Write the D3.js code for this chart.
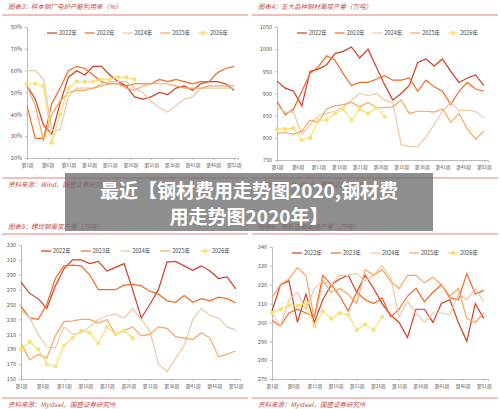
<!DOCTYPE html>
<html><head><meta charset="utf-8">
<script src="https://cdn.jsdelivr.net/npm/d3@7"></script>
<style>body{margin:0;background:#fff}svg{display:block}</style>
</head><body><svg width="500" height="409"></svg>
<script>
"use strict";
// Weekly values, sampled every second week (weeks 1,3,...,51); 2026 only up to week 27.
const WEEKS = d3.range(1, 52, 2);
const WEEKS_2026 = d3.range(1, 28, 2);
const YEARS = ["2022年", "2023年", "2024年", "2025年", "2026年"];
const TICK_WEEKS = [1, 6, 11, 16, 21, 26, 31, 36, 41, 46, 51];

const eafRate = [
    [53,47,35,31,45,57,60,58,62,62,58,55,53,48,47,48,50,49,52,53,51,54,55,55,54,51],
    [44,29,29,45,52,60,62,61,58,55,54,54,53,54,54,54,56,55,56,55,54,55,55,59,61,62],
    [60,60,56,33,33,48,52,52,52,54,55,55,55,52,50,46,43,41,44,47,48,52,52,52,52,52],
    [53,44,28,40,46,50,51,51,52,53,54,54,52,51,53,54,54,54,53,52,52,52,53,53,53,53],
    [54,54,53,27,40,52,55,55,55,56,56,57,57,56]
];
const fiveOutput = [
    [928,912,905,872,950,955,965,990,995,1005,980,1000,960,920,885,900,918,970,978,962,978,950,925,935,942,918],
    [882,852,865,905,945,960,985,975,945,918,925,925,932,940,930,930,935,905,930,915,905,875,905,925,910,905],
    [870,858,858,808,830,850,855,860,870,885,900,895,900,885,880,785,780,780,802,830,860,880,862,862,860,845],
    [810,812,808,815,840,835,865,872,875,880,870,880,868,868,870,885,855,860,860,858,865,835,855,820,797,815],
    [820,820,822,795,800,840,840,855,865,840,865,855,868,848]
];
const rebarOutput = [
    [280,265,258,245,275,298,310,310,305,308,295,300,305,270,232,250,270,307,308,302,296,302,295,285,287,271],
    [248,232,230,250,285,302,303,302,290,270,270,270,276,277,275,268,264,255,253,262,253,258,255,260,258,252],
    [243,232,210,193,192,220,210,212,220,230,235,237,232,244,230,215,170,160,178,195,230,245,235,232,220,216],
    [198,176,183,178,208,227,228,230,230,225,230,210,215,220,208,210,220,218,207,205,203,212,205,180,183,188],
    [190,200,190,170,167,195,205,215,212,198,220,210,215,205]
];
const hrcOutput = [
    [306,320,322,300,315,300,312,320,323,325,316,325,318,310,304,300,292,307,307,300,310,312,300,290,310,302],
    [301,298,305,307,305,303,325,320,314,306,316,312,310,313,303,307,314,318,311,316,320,313,312,326,315,317],
    [305,298,312,316,307,318,322,320,325,325,326,322,325,330,324,303,311,305,300,305,305,304,315,312,318,311],
    [313,320,323,329,325,302,322,316,318,315,310,328,325,328,322,318,325,325,321,324,320,314,318,302,300,305],
    [305,307,309,309,310,298,306,302,305,304,296,299,296,303]
];

const COLORS = ["#cf3f25", "#f26a25", "#e9c9a6", "#f8a55e", "#f7e173"];
const svg = d3.select("svg");
const FONT = "'Noto Sans CJK SC', sans-serif";

const panels = [
    {ox: 0, oy: 0, title: "图表3：样本钢厂电炉产能利用率（%）", source: "资料来源：Wind，国盛证券研究所",
     data: eafRate, domain: [20, 80], ticks: d3.range(20, 81, 10), fmt: d => d + "%",
     x0: 27, x1: 238, yTop: 27, yBot: 158, titleY: 9, lineY: 15, srcLine: 178, srcY: 187},
    {ox: 250, oy: 0, title: "图表4：五大品种钢材周度产量（万吨）", source: "资料来源：Mysteel，国盛证券研究所",
     data: fiveOutput, domain: [750, 1050], ticks: d3.range(750, 1051, 50), fmt: d => d,
     x0: 27, x1: 238, yTop: 27, yBot: 160, titleY: 9, lineY: 15, srcLine: 178, srcY: 187},
    {ox: 0, oy: 205, title: "图表5：螺纹钢周度产量（万吨）", source: "资料来源：Mysteel，国盛证券研究所",
     data: rebarOutput, domain: [150, 330], ticks: d3.range(150, 331, 20), fmt: d => d,
     x0: 21, x1: 240, yTop: 40, yBot: 174, titleY: 24, lineY: 29, srcLine: 193, srcY: 202},
    {ox: 250, oy: 205, title: "图表6：热轧卷板周度产量（万吨）", source: "资料来源：Mysteel，国盛证券研究所",
     data: hrcOutput, domain: [270, 340], ticks: d3.range(270, 341, 10), fmt: d => d,
     x0: 22, x1: 238, yTop: 42, yBot: 174, titleY: 24, lineY: 29, srcLine: 193, srcY: 202}
];

panels.forEach(drawPanel);

function drawPanel(p) {
    const g = svg.append("g").attr("transform", `translate(${p.ox},${p.oy})`);
    g.append("text").attr("x", 8).attr("y", p.titleY).attr("font-size", 6.5).attr("font-style", "italic")
        .attr("fill", "#c0504d").attr("font-family", FONT).text(p.title);
    g.append("line").attr("x1", 2).attr("x2", 248).attr("y1", p.lineY).attr("y2", p.lineY)
        .attr("stroke", "#e08080").attr("stroke-width", 1);
    g.append("line").attr("x1", 2).attr("x2", 248).attr("y1", p.srcLine).attr("y2", p.srcLine)
        .attr("stroke", "#e08080").attr("stroke-width", 1);
    g.append("text").attr("x", 8).attr("y", p.srcY).attr("font-size", 6.5).attr("font-style", "italic")
        .attr("fill", "#c0504d").attr("font-family", FONT).text(p.source);

    const x = d3.scaleLinear().domain([1, 52]).range([p.x0, p.x1]);
    const y = d3.scaleLinear().domain(p.domain).range([p.yBot, p.yTop]);

    const yAxis = g.append("g").attr("transform", `translate(${p.x0},0)`)
        .call(d3.axisLeft(y).tickValues(p.ticks).tickFormat(p.fmt).tickSize(2));
    const xAxis = g.append("g").attr("transform", `translate(0,${p.yBot})`)
        .call(d3.axisBottom(x).tickValues(TICK_WEEKS).tickFormat(w => "第" + w + "周").tickSize(2));
    [xAxis, yAxis].forEach(a => {
        a.selectAll("path,line").attr("stroke", "#bbb");
        a.selectAll("text").attr("font-size", 5.5).attr("fill", "#555").attr("font-family", FONT);
    });
    xAxis.selectAll("text").attr("font-size", 4.8).attr("dy", "0.9em");

    const line = d3.line().x(d => x(d[0])).y(d => y(d[1]));
    p.data.forEach((vals, i) => {
        const wk = i === 4 ? WEEKS_2026 : WEEKS;
        const pts = vals.map((v, j) => [wk[j], v]);
        g.append("path").attr("d", line(pts)).attr("fill", "none")
            .attr("stroke", COLORS[i]).attr("stroke-width", 1.2);
        if (i === 4) {
            g.selectAll(null).data(pts).join("rect")
                .attr("x", d => x(d[0]) - 1.8).attr("y", d => y(d[1]) - 1.8)
                .attr("width", 3.6).attr("height", 3.6).attr("fill", COLORS[4]);
        }
    });

    // legend
    const lx = d3.scalePoint().domain(YEARS).range([p.x0 + 20, p.x1 - 40]);
    const ly = p.yTop + 6;
    YEARS.forEach((yr, i) => {
        const gx = lx(yr);
        g.append("line").attr("x1", gx).attr("x2", gx + 10).attr("y1", ly).attr("y2", ly)
            .attr("stroke", COLORS[i]).attr("stroke-width", 1.2);
        if (i === 4) g.append("rect").attr("x", gx + 3.2).attr("y", ly - 1.8).attr("width", 3.6)
            .attr("height", 3.6).attr("fill", COLORS[4]);
        g.append("text").attr("x", gx + 12).attr("y", ly + 2).attr("font-size", 5.5)
            .attr("fill", "#444").attr("font-family", FONT).text(yr);
    });
}

// overlay banner
svg.append("rect").attr("x", 65).attr("y", 173).attr("width", 368).attr("height", 58)
    .attr("fill", "rgba(110,110,110,0.78)");
svg.append("text").attr("x", 249).attr("y", 198).attr("text-anchor", "middle").attr("font-size", 19)
    .attr("font-weight", "bold").attr("fill", "#fff").attr("font-family", FONT)
    .text("最近【钢材费用走势图2020,钢材费");
svg.append("text").attr("x", 249).attr("y", 224).attr("text-anchor", "middle").attr("font-size", 19)
    .attr("font-weight", "bold").attr("fill", "#fff").attr("font-family", FONT)
    .text("用走势图2020年】");
</script></body></html>
